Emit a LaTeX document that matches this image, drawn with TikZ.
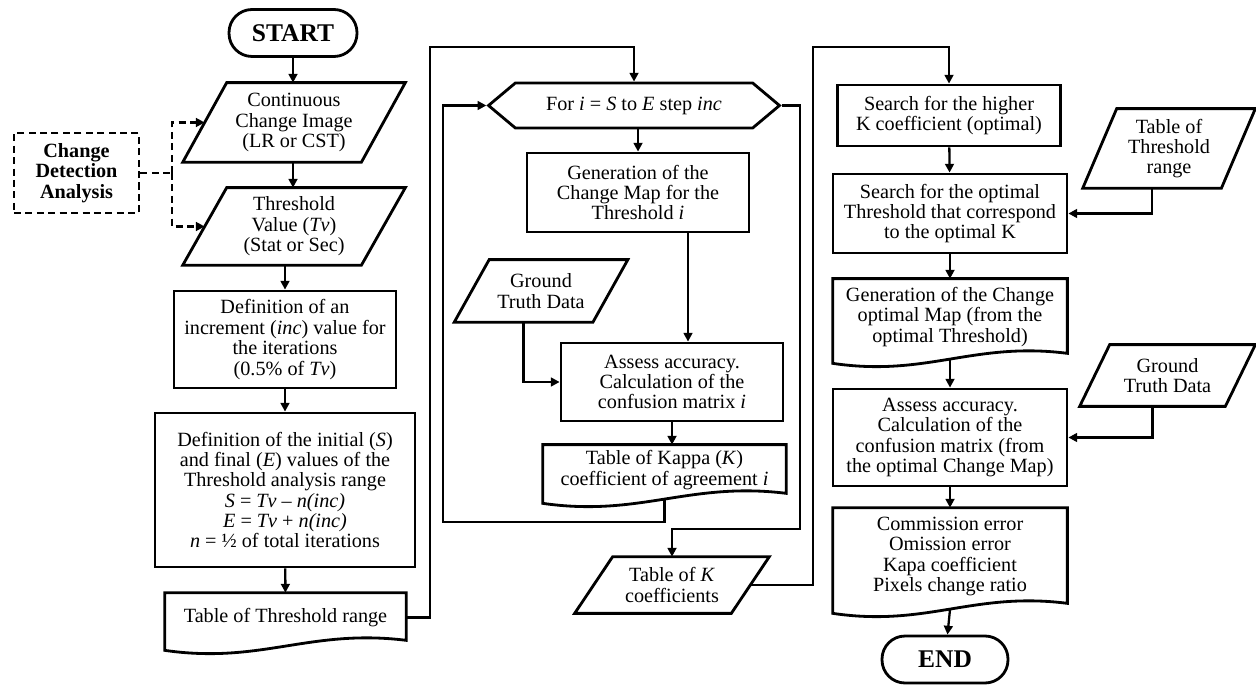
\documentclass[tikz,border=0pt]{standalone}
\usepackage{fontspec}
\setmainfont{Liberation Serif}
\usetikzlibrary{arrows.meta, calc, shapes.symbols}

% document symbol: straight top and sides, wavy bottom
\newcommand{\docoutline}[1]{%
  \draw[boxline] (#1.north west) -- (#1.north east) -- ($(#1.south east)+(0,-2)$)
    .. controls ($(#1.south west)!0.6!(#1.south east)+(0,-14)$)
    and ($(#1.south west)!0.4!(#1.south east)+(0,22)$) .. ($(#1.south west)+(0,8)$) -- cycle;
  \coordinate (#1-bot) at ($(#1.south)+(0,4)$);}

% data symbol: parallelogram, #2 = half of the slant offset
\newcommand{\iooutline}[2]{%
  \draw[boxline] ($(#1.north west)+(#2,0)$) -- ($(#1.north east)+(#2,0)$)
    -- ($(#1.south east)-(#2,0)$) -- ($(#1.south west)-(#2,0)$) -- cycle;
  \coordinate (#1-bot) at ($(#1.south)-(#2,0)$);}

\begin{document}
\begin{tikzpicture}[x=0.02cm, y=-0.02cm,
  boxline/.style={line width=1.6pt},
  arr/.style={line width=1.3pt, -{Triangle[length=5pt,width=5pt]}},
  dasharr/.style={arr, dash pattern=on 4pt off 2.5pt},
  txt/.style={font=\fontsize{11.5}{11.6}\selectfont, align=center, inner sep=0pt},
  procbox/.style={txt, draw, boxline, rectangle},
  iobox/.style={txt, rectangle},
  docbox/.style={txt, rectangle},
  loopbox/.style={txt, draw, boxline, signal, signal to=east and west, signal pointer angle=80},
  termbox/.style={draw, boxline, rectangle, rounded corners=0.46cm,
    font=\fontsize{14.5}{16}\selectfont\bfseries, minimum width=2.52cm, minimum height=0.94cm}]

  \useasboundingbox (0,0) rectangle (1256,685);

     % -------------------------
     % LEFT: preparation of the threshold range
     % -------------------------
      \node[termbox, minimum width=2.56cm] (start) at (293,33) {START};
      \node[iobox, minimum width=3.56cm, minimum height=1.58cm] (ccimg) at (294,122.5)
        {Continuous\\Change Image\\(LR or CST)};
      \iooutline{ccimg}{22}
      \node[iobox, minimum width=3.56cm, minimum height=1.54cm] (tv) at (294,226.5)
        {Threshold\\Value (\textit{Tv})\\(Stat or Sec)};
      \iooutline{tv}{22}
      \node[procbox, minimum width=4.44cm, minimum height=1.94cm] (incdef) at (285,339.5)
        {Definition of an\\increment (\textit{inc}) value for\\the iterations\\(0.5\% of \textit{Tv})};
      \node[procbox, minimum width=5.2cm, minimum height=3.08cm] (rangedef) at (285,490)
        {Definition of the initial (\textit{S})\\and final (\textit{E}) values of the\\Threshold analysis range\\
         \textit{S} = \textit{Tv} – \textit{n(inc)}\\\textit{E} = \textit{Tv} + \textit{n(inc)}\\\textit{n} = ½ of total iterations};
      \node[docbox, minimum width=4.82cm, minimum height=0.98cm] (trange) at (285.5,617.5)
        {Table of Threshold range};
      \docoutline{trange}

      % Change detection input (dashed)
      \node[procbox, dash pattern=on 4pt off 2.5pt, font=\fontsize{11.5}{11.6}\selectfont\bfseries,
        minimum width=2.5cm, minimum height=1.6cm] (cda) at (76.5,173) {Change\\Detection\\Analysis};
      \coordinate (cdaj) at (172,173);

      \draw[arr] (start) -- (start |- ccimg.north);
      \draw[arr] (ccimg.south -| start) -- (tv.north -| start);
      \draw[arr] (incdef |- tv.south) -- (incdef);
      \draw[arr] (incdef) -- (rangedef);
      \draw[arr] (rangedef) -- (trange);
      \draw[line width=1.3pt, dash pattern=on 4pt off 2.5pt] (cda.east) -- (cdaj);
      \draw[dasharr] (cdaj) |- (ccimg.west);
      \draw[dasharr] (cdaj) |- (tv.west);

     % -------------------------
     % MIDDLE: loop over the thresholds
     % -------------------------
      \node[loopbox, minimum width=5.82cm, minimum height=0.9cm] (forh) at (634,105.5)
        {For \textit{i} = \textit{S} to \textit{E} step \textit{inc}};
      \node[procbox, minimum width=4.44cm, minimum height=1.58cm] (genmap) at (638,192.5)
        {Generation of the\\Change Map for the\\Threshold \textit{i}};
      \node[iobox, minimum width=2.76cm, minimum height=1.24cm] (gtd1) at (541,291)
        {Ground\\Truth Data};
      \iooutline{gtd1}{17.5}
      \node[procbox, minimum width=4.44cm, minimum height=1.56cm] (assess1) at (672,382)
        {Assess accuracy.\\Calculation of the\\confusion matrix \textit{i}};
      \node[docbox, minimum width=4.86cm, minimum height=1.0cm] (kappa) at (664.5,470)
        {Table of Kappa (\textit{K})\\coefficient of agreement \textit{i}};
      \docoutline{kappa}
      \node[iobox, minimum width=3.12cm, minimum height=1.12cm] (tk) at (672,585)
        {Table of \textit{K}\\coefficients};
      \iooutline{tk}{19}

      \coordinate (upA) at (430,47);
      \coordinate (loopB) at (443,522);
      \coordinate (exitK) at (800,529);
      \coordinate (upK) at (813,47);

      \draw[arr] (trange.east) -| (upA) -| (forh.north);
      \draw[arr] (genmap |- forh.south) -- (genmap);
      \draw[arr] ([xshift=1cm]genmap.south) -- ([xshift=1cm]genmap.south |- assess1.north);
      \draw[arr] (gtd1-bot) |- (assess1.west);
      \draw[arr] (assess1.south) -- (assess1.south |- kappa.north);
      \draw[arr] (kappa-bot) |- (loopB) |- (forh.west);
      \draw[arr] (forh.east) -| (exitK) -| (tk.north);

     % -------------------------
     % RIGHT: optimal threshold and accuracy
     % -------------------------
      \node[procbox, minimum width=4.46cm, minimum height=1.22cm] (search1) at (949,115.5)
        {Search for the higher\\K coefficient (optimal)};
      \node[procbox, minimum width=4.68cm, minimum height=1.58cm] (search2) at (950,213.5)
        {Search for the optimal\\Threshold that correspond\\to the optimal K};
      \node[iobox, minimum width=2.76cm, minimum height=1.58cm] (tth) at (1169,148.5)
        {Table of\\Threshold\\range};
      \iooutline{tth}{17}
      \node[docbox, minimum width=4.68cm, minimum height=1.52cm] (genopt) at (950,317)
        {Generation of the Change\\optimal Map (from the\\optimal Threshold)};
      \docoutline{genopt}
      \node[procbox, minimum width=4.68cm, minimum height=1.94cm] (assess2) at (950,437.5)
        {Assess accuracy.\\Calculation of the\\confusion matrix (from\\the optimal Change Map)};
      \node[iobox, minimum width=2.9cm, minimum height=1.22cm] (gtd2) at (1167.5,375.5)
        {Ground\\Truth Data};
      \iooutline{gtd2}{15}
      \node[docbox, minimum width=4.68cm, minimum height=1.94cm] (result) at (950,556.5)
        {Commission error\\Omission error\\Kapa coefficient\\Pixels change ratio};
      \docoutline{result}
      \node[termbox] (stop) at (945,659.5) {END};

      \draw[arr] (tk.east) -| (upK) -| (search1.north);
      \draw[arr] (search1) -- (search2);
      \draw[arr] (tth-bot) |- (search2.east);
      \draw[arr] (search2) -- (genopt);
      \draw[arr] (genopt-bot) -- (assess2);
      \draw[arr] (gtd2-bot) |- (assess2.east);
      \draw[arr] (assess2) -- (result);
      \draw[arr] (result-bot) -- (stop);
\end{tikzpicture}
\end{document}
